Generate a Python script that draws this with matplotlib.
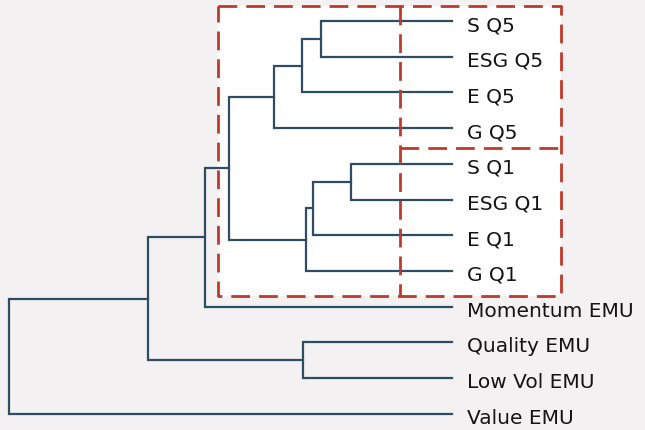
import numpy as np
import matplotlib.pyplot as plt
from matplotlib.patches import Rectangle

plt.rcParams['lines.scale_dashes'] = False

# leaves, top to bottom
leaves = ['S Q5', 'ESG Q5', 'E Q5', 'G Q5',
          'S Q1', 'ESG Q1', 'E Q1', 'G Q1',
          'Momentum EMU', 'Quality EMU', 'Low Vol EMU', 'Value EMU']

# merges: (left child, right child, height); children < 12 are leaves,
# higher ids refer to earlier merges (12 + merge index)
merge_left = [0, 12, 13, 4, 15, 16, 14, 18, 9, 19, 21]
merge_right = [1, 2, 3, 5, 6, 7, 17, 8, 10, 20, 11]
merge_height = [131, 150, 178, 101, 139, 146, 223, 247, 149, 304, 443]

line_col = '#2e4d63'
red = '#c0392b'
bg = '#f3f1f2'

fig = plt.figure(figsize=(6.45, 4.31), dpi=100)
fig.patch.set_facecolor(bg)
ax = fig.add_axes([0, 0, 1, 1])
ax.set_facecolor(bg)
ax.set_xlim(452, -193)
ax.set_ylim(11.456, -0.616)
ax.axis('off')

# white area with the red dashed boxes
ax.add_patch(Rectangle((-109, -0.42), 343, 8.12, facecolor='white',
                       edgecolor='none', zorder=0))
dash = dict(color=red, lw=2.0, dashes=(13.5, 6.5), zorder=3)
ax.plot([234, -109, -109, 234, 234], [-0.42, -0.42, 7.7, 7.7, -0.42], **dash)
ax.plot([52, 52], [-0.42, 7.7], **dash)
ax.plot([52, -109], [3.56, 3.56], **dash)

# dendrogram links
pos = {i: (0.0, float(i)) for i in range(len(leaves))}
for k, (a, b, h) in enumerate(zip(merge_left, merge_right, merge_height)):
    xa, ya = pos[a]
    xb, yb = pos[b]
    ax.plot([xa, h, h, xb], [ya, ya, yb, yb], color=line_col, lw=1.6,
            solid_joinstyle='miter', zorder=2)
    pos[12 + k] = (h, (ya + yb) / 2)

for i, lab in enumerate(leaves):
    ax.text(-15, i + 0.1, lab, ha='left', va='center', fontsize=14.5,
            family='DejaVu Sans', color='#141414', zorder=4)

fig.savefig('out.png', dpi=100, facecolor=bg)
